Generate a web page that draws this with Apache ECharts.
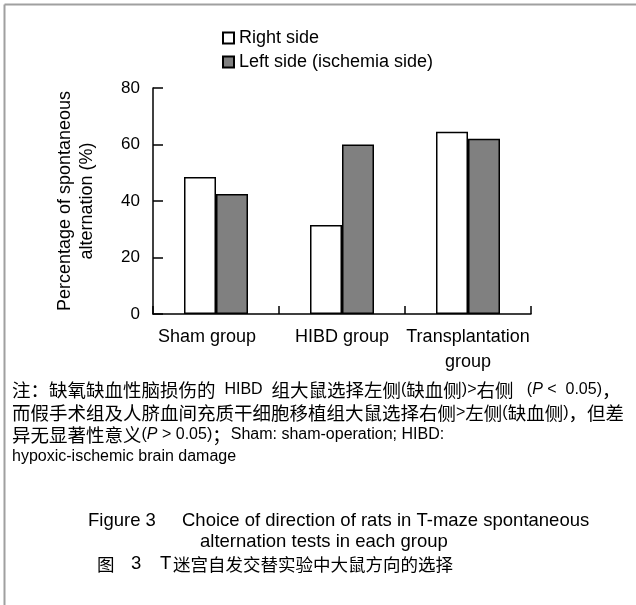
<!DOCTYPE html>
<html>
<head>
<meta charset="utf-8">
<script src="https://cdn.jsdelivr.net/npm/echarts@6/dist/echarts.min.js"></script>
<style>
html,body{margin:0;padding:0;background:#fff;}
#chart{width:636px;height:605px;}
</style>
</head>
<body>
<div id="chart"></div>
<script>
// ---- data ----
const categories = ['Sham group', 'HIBD group', 'Transplantation\ngroup'];
const seriesNames = ['Right side', 'Left side (ischemia side)'];
const rightSide = [48.5, 31.5, 64.5];
const leftSide = [42.5, 60, 62];
const yTickMin = 0, yTickMax = 80, yTickStep = 20;
const yTitle = 'Percentage of spontaneous\nalternation (%)';
const noteLines = [
  ['注：缺氧缺血性脑损伤的  HIBD  组大鼠选择左侧(缺血侧)>右侧   (', ['P'], ' <  0.05)，'],
  ['而假手术组及人脐血间充质干细胞移植组大鼠选择右侧>左侧(缺血侧)，但差'],
  ['异无显著性意义(', ['P'], ' > 0.05)；Sham: sham-operation; HIBD:'],
  ['hypoxic-ischemic brain damage']
];
const captionEn1a = 'Figure 3';
const captionEn1b = 'Choice of direction of rats in T-maze spontaneous';
const captionEn2 = 'alternation tests in each group';
const captionZhA = '图';
const captionZhB = '3';
const captionZhC = 'T';
const captionZhD = '迷宫自发交替实验中大鼠方向的选择';

const LATIN = 'Liberation Sans, Arial, sans-serif';
const CJK = 'Noto Sans CJK SC, sans-serif';

function richLine(parts) {
  let out = '';
  parts.forEach(p => {
    if (Array.isArray(p)) { out += '{i|' + p[0] + '}'; return; }
    const re = /([\u3000-\u9fff\uff00-\uffef]+)|([^\u3000-\u9fff\uff00-\uffef]+)/g;
    let m;
    while ((m = re.exec(p)) !== null) {
      if (m[1]) out += '{c|' + m[1] + '}';
      else out += '{e|' + m[2] + '}';
    }
  });
  return out;
}
const noteRich = {
  c: {fontSize: 18.5, fontFamily: CJK, fill: '#000'},
  e: {fontSize: 16, fontFamily: LATIN, fill: '#000'},
  i: {fontSize: 16, fontFamily: LATIN, fontStyle: 'italic', fill: '#000'}
};
const noteY = [390, 413, 435, 457];

const graphics = [
  {type: 'line', shape: {x1: 4.5, y1: 4.5, x2: 636, y2: 4.5}, style: {stroke: '#a0a0a0', lineWidth: 2}},
  {type: 'line', shape: {x1: 4.5, y1: 4.5, x2: 4.5, y2: 605}, style: {stroke: '#a0a0a0', lineWidth: 2}}
];
noteLines.forEach((ln, k) => {
  graphics.push({type: 'text', x: 12, y: noteY[k], style: {text: richLine(ln), rich: noteRich, verticalAlign: 'middle', align: 'left'}});
});
const capStyle = {fontSize: 18.5, fontFamily: LATIN, fill: '#000', verticalAlign: 'middle'};
graphics.push({type: 'text', x: 88, y: 521, style: Object.assign({text: captionEn1a}, capStyle)});
graphics.push({type: 'text', x: 182, y: 521, style: Object.assign({text: captionEn1b}, capStyle)});
graphics.push({type: 'text', x: 200, y: 542, style: Object.assign({text: captionEn2}, capStyle)});
graphics.push({type: 'text', x: 97, y: 564, style: Object.assign({}, capStyle, {text: captionZhA, fontFamily: CJK, fontSize: 17.5})});
graphics.push({type: 'text', x: 131, y: 564, style: Object.assign({text: captionZhB}, capStyle)});
graphics.push({type: 'text', x: 160, y: 564, style: Object.assign({text: captionZhC}, capStyle)});
graphics.push({type: 'text', x: 173, y: 564, style: Object.assign({}, capStyle, {text: captionZhD, fontFamily: CJK, fontSize: 17.5})});

const chart = echarts.init(document.getElementById('chart'), null, {renderer: 'canvas'});
chart.setOption({
  backgroundColor: '#fff',
  animation: false,
  textStyle: {fontFamily: LATIN, color: '#000'},
  legend: {
    orient: 'vertical',
    left: 222,
    top: 28,
    padding: 0,
    itemWidth: 11,
    itemHeight: 11,
    itemGap: 4,
    itemTextGap: 14,
    icon: 'rect',
    textStyle: {fontSize: 18, color: '#000', fontFamily: LATIN, lineHeight: 20},
    data: seriesNames
  },
  grid: {left: 153, right: 105, top: 88, bottom: 291, containLabel: false},
  xAxis: {
    type: 'category',
    data: categories,
    axisLine: {lineStyle: {color: '#000', width: 1.5}},
    axisTick: {show: true, inside: true, length: 8, lineStyle: {color: '#000', width: 1.5}},
    axisLabel: {
      color: '#000', fontSize: 18, fontFamily: LATIN, lineHeight: 25, margin: 11, interval: 0,
      formatter: function (v, idx) { return idx === 0 ? '{s|' + v + '}' : v; },
      rich: {s: {fontSize: 18, fontFamily: LATIN, color: '#000', padding: [0, 18, 0, 0]}}
    },
    splitLine: {show: false}
  },
  yAxis: {
    type: 'value',
    min: yTickMin, max: yTickMax, interval: yTickStep,
    name: yTitle,
    nameLocation: 'middle',
    nameGap: 55,
    nameRotate: 90,
    nameTextStyle: {fontSize: 18, fontFamily: LATIN, color: '#000', lineHeight: 22, align: 'center'},
    axisLine: {show: true, lineStyle: {color: '#000', width: 1.5}},
    axisTick: {show: true, inside: true, length: 10, lineStyle: {color: '#000', width: 1.5}},
    axisLabel: {color: '#000', fontSize: 17, fontFamily: LATIN, margin: 13},
    splitLine: {show: false}
  },
  series: [
    {name: seriesNames[0], type: 'bar', data: rightSide, barWidth: 32, barGap: '0%',
     itemStyle: {color: '#ffffff', borderColor: '#000', borderWidth: 1.5}},
    {name: seriesNames[1], type: 'bar', data: leftSide, barWidth: 32, barGap: '0%',
     itemStyle: {color: '#808080', borderColor: '#000', borderWidth: 1.5}}
  ],
  graphic: graphics
});
</script>
</body>
</html>
